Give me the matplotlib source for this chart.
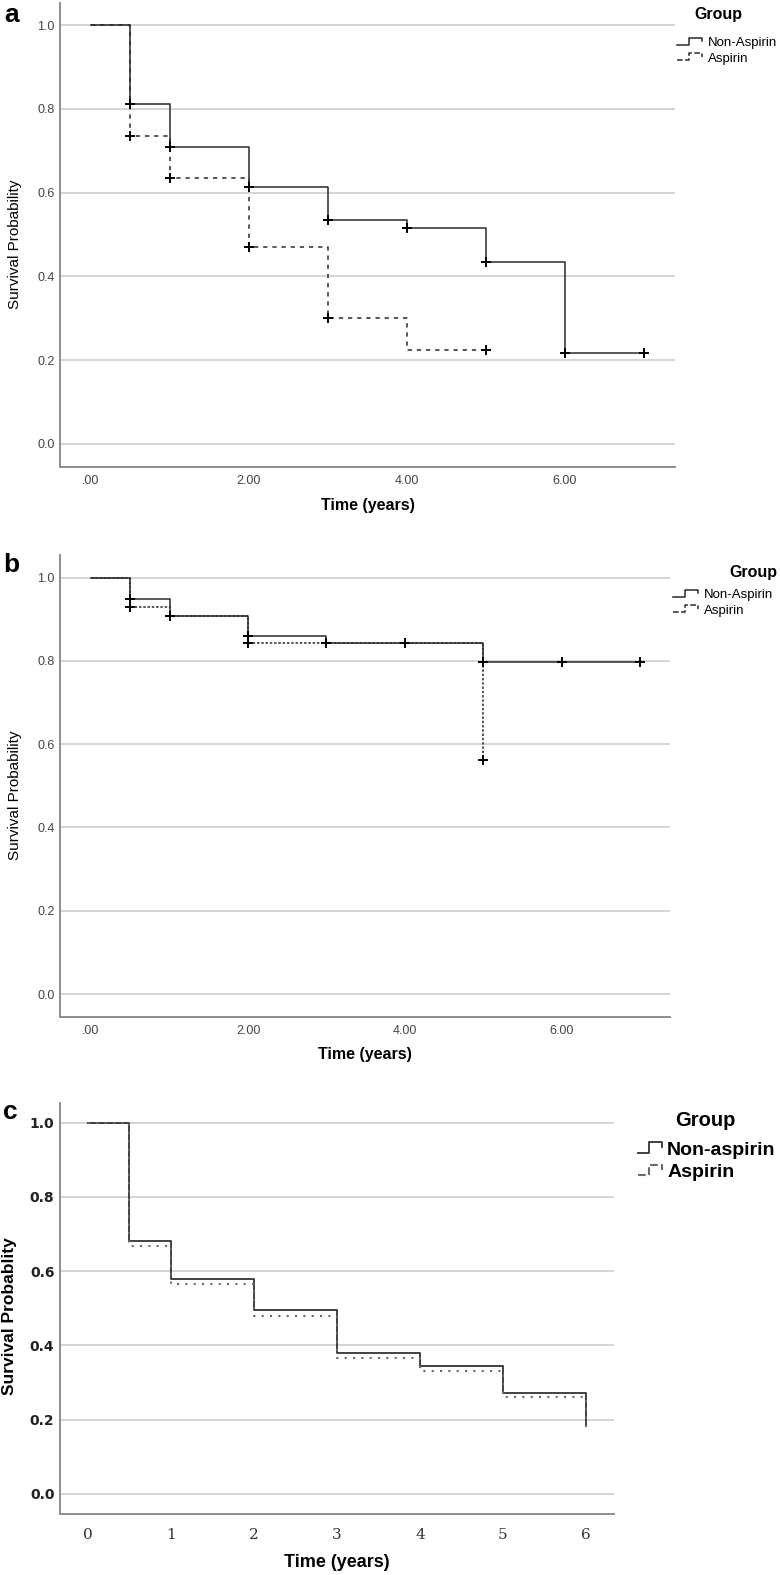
"""Kaplan-Meier survival curves, aspirin vs non-aspirin (panels a, b, c)."""

import numpy as np
import matplotlib
matplotlib.use("Agg")
import matplotlib.pyplot as plt
from matplotlib.legend_handler import HandlerBase
from matplotlib.lines import Line2D

W, H = 780, 1575

# ---- data ----
# panel a
a_non_t = [0, 0.5, 1, 2, 3, 4, 5, 6, 7]
a_non_s = [1.0, 0.811, 0.709, 0.613, 0.535, 0.515, 0.434, 0.217, 0.217]
a_non_cens = [0.5, 1, 2, 3, 4, 5, 6, 7]
a_asp_t = [0, 0.5, 1, 2, 3, 4, 5]
a_asp_s = [1.0, 0.735, 0.635, 0.470, 0.300, 0.224, 0.224]
a_asp_cens = [0.5, 1, 2, 3, 5]

# panel b
b_non_t = [0, 0.5, 1, 2, 3, 5, 7]
b_non_s = [1.0, 0.950, 0.908, 0.860, 0.843, 0.797, 0.797]
b_non_cens = [0.5, 1, 2, 3, 4, 5, 6, 7]
b_asp_t = [0, 0.5, 1, 2, 5]
b_asp_s = [1.0, 0.929, 0.908, 0.844, 0.562]
b_asp_cens = [0.5, 1, 2, 5]

# panel c
c_non_t = [0, 0.5, 1, 2, 3, 4, 5, 6]
c_non_s = [1.0, 0.680, 0.579, 0.495, 0.379, 0.345, 0.273, 0.186]
c_asp_t = [0, 0.5, 1, 2, 3, 4, 5, 6]
c_asp_s = [1.0, 0.669, 0.566, 0.480, 0.365, 0.331, 0.260, 0.174]

y_ticks = [0.0, 0.2, 0.4, 0.6, 0.8, 1.0]
y_ticklabels = ["0.0", "0.2", "0.4", "0.6", "0.8", "1.0"]
ab_xticks = [0, 2, 4, 6]
ab_xticklabels = [".00", "2.00", "4.00", "6.00"]
c_xticks = [0, 1, 2, 3, 4, 5, 6]
c_xticklabels = ["0", "1", "2", "3", "4", "5", "6"]

SANS = ["Liberation Sans", "DejaVu Sans"]
NARROW = ["Liberation Sans Narrow", "Liberation Sans", "DejaVu Sans"]
LINE = "#2a2a2a"
GRID = "#cdcdcd"
SPINE = "#8e8e8e"


class StepHandler(HandlerBase):
    """SPSS-like little step icon for the legend."""

    def create_artists(self, legend, orig_handle, xdescent, ydescent,
                       width, height, fontsize, trans):
        x = np.array([0, 0.45, 0.45, 0.95, 0.95]) * width - xdescent
        y = np.array([0.15, 0.15, 0.9, 0.9, 0.55]) * height - ydescent
        ln = Line2D(x, y, color=orig_handle.get_color(),
                    linestyle=orig_handle.get_linestyle(),
                    linewidth=orig_handle.get_linewidth())
        ln.set_transform(trans)
        return [ln]


def px_box(left, top, right, bottom):
    return [left / W, 1 - bottom / H, (right - left) / W, (bottom - top) / H]


def fx(x):
    return x / W


def fy(y):
    return 1 - y / H


def censor_y(t, s, cens):
    idx = np.searchsorted(t, cens, side="right") - 1
    return np.asarray(s)[idx]


def style_axes(ax, xlim, ylim):
    ax.set_xlim(*xlim)
    ax.set_ylim(*ylim)
    for side in ["top", "right"]:
        ax.spines[side].set_visible(False)
    for side in ["left", "bottom"]:
        ax.spines[side].set_color(SPINE)
        ax.spines[side].set_linewidth(1.4)
    ax.set_yticks(y_ticks)
    ax.yaxis.grid(True, color=GRID, linewidth=1.2)
    ax.set_axisbelow(True)
    ax.tick_params(length=0)


fig = plt.figure(figsize=(W / 100, H / 100), dpi=100)

# ---------------- panel a ----------------
ax = fig.add_axes(px_box(60, 3.3, 675, 467))
style_axes(ax, (-0.392, 7.392), (-0.0549, 1.0518))
l1, = ax.step(a_non_t, a_non_s, where="post", color=LINE, lw=1.1)
l2, = ax.step(a_asp_t, a_asp_s, where="post", color=LINE, lw=1.1,
              linestyle=(0, (2.8, 3.2)))
ax.plot(a_non_cens, censor_y(a_non_t, a_non_s, a_non_cens), "+",
        color="black", ms=7, mew=1.4)
ax.plot(a_asp_cens, censor_y(a_asp_t, a_asp_s, a_asp_cens), "+",
        color="black", ms=7, mew=1.4)
ax.set_xticks(ab_xticks, ab_xticklabels)
ax.set_yticklabels(y_ticklabels)
ax.tick_params(axis="x", pad=6, labelsize=9, labelcolor="#444")
ax.tick_params(axis="y", pad=4, labelsize=9, labelcolor="#444")
for lab in ax.get_xticklabels() + ax.get_yticklabels():
    lab.set_family(SANS)
ax.set_xlabel("Time (years)", family=SANS, fontsize=11.5, fontweight="bold",
              va="center")
ax.xaxis.set_label_coords(0.5, -0.082)
ax.set_ylabel("Survival Probability", family=NARROW, fontsize=11,
              va="center", ha="center")
ax.yaxis.set_label_coords(-0.073, 0.481)
fig.text(fx(12), fy(15), "a", family=SANS, fontsize=19, fontweight="bold",
         ha="center", va="center")
fig.text(fx(718), fy(15), "Group", family=SANS, fontsize=11.5,
         fontweight="bold", ha="center", va="center")
fig.legend([l1, l2], ["Non-Aspirin", "Aspirin"], loc="upper left",
           bbox_to_anchor=(fx(677), fy(37)), frameon=False, borderpad=0,
           borderaxespad=0, handlelength=2.0, handletextpad=0.35,
           labelspacing=0.25, prop={"family": SANS, "size": 9.5},
           handler_map={Line2D: StepHandler()})

# ---------------- panel b ----------------
ax = fig.add_axes(px_box(60, 555, 670, 1016.7))
style_axes(ax, (-0.395, 7.376), (-0.0545, 1.0545))
l1, = ax.step(b_non_t, b_non_s, where="post", color=LINE, lw=1.1)
l2, = ax.step(b_asp_t, b_asp_s, where="post", color=LINE, lw=1.1,
              linestyle=(0, (1.6, 1.2)))
ax.plot(b_non_cens, censor_y(b_non_t, b_non_s, b_non_cens), "+",
        color="black", ms=7, mew=1.4)
ax.plot(b_asp_cens, censor_y(b_asp_t, b_asp_s, b_asp_cens), "+",
        color="black", ms=7, mew=1.4)
ax.set_xticks(ab_xticks, ab_xticklabels)
ax.set_yticklabels(y_ticklabels)
ax.tick_params(axis="x", pad=6, labelsize=9, labelcolor="#444")
ax.tick_params(axis="y", pad=4, labelsize=9, labelcolor="#444")
for lab in ax.get_xticklabels() + ax.get_yticklabels():
    lab.set_family(SANS)
ax.set_xlabel("Time (years)", family=SANS, fontsize=11.5, fontweight="bold",
              va="center")
ax.xaxis.set_label_coords(0.5, -0.081)
ax.set_ylabel("Survival Probability", family=NARROW, fontsize=11,
              va="center", ha="center")
ax.yaxis.set_label_coords(-0.0738, 0.479)
fig.text(fx(11), fy(565), "b", family=SANS, fontsize=19, fontweight="bold",
         ha="center", va="center")
fig.text(fx(753), fy(572), "Group", family=SANS, fontsize=11.5,
         fontweight="bold", ha="center", va="center")
fig.legend([l1, l2], ["Non-Aspirin", "Aspirin"], loc="upper left",
           bbox_to_anchor=(fx(673), fy(589)), frameon=False, borderpad=0,
           borderaxespad=0, handlelength=2.0, handletextpad=0.35,
           labelspacing=0.25, prop={"family": SANS, "size": 9.5},
           handler_map={Line2D: StepHandler()})

# ---------------- panel c ----------------
ax = fig.add_axes(px_box(60, 1103, 614, 1514.3))
style_axes(ax, (-0.333, 6.337), (-0.0547, 1.053))
l1, = ax.step(c_non_t, c_non_s, where="post", color="#333333", lw=1.3)
l2, = ax.step(c_asp_t, c_asp_s, where="post", color="#6a6a6a", lw=1.5,
              linestyle=(0, (1, 3)))
ax.set_xticks(c_xticks, c_xticklabels)
ax.set_yticklabels(y_ticklabels)
ax.tick_params(axis="x", pad=10, labelsize=11, labelcolor="#333")
ax.tick_params(axis="y", pad=4, labelsize=10, labelcolor="#222")
for lab in ax.get_xticklabels():
    lab.set_family(["DejaVu Serif"])
for lab in ax.get_yticklabels():
    lab.set_family(["DejaVu Sans"])
    lab.set_fontweight("bold")
ax.set_xlabel("Time (years)", family=SANS, fontsize=13, fontweight="bold",
              va="center")
ax.xaxis.set_label_coords(0.5, -0.116)
ax.set_ylabel("Survival Probablity", family=NARROW, fontsize=12.5,
              fontweight="bold", va="center", ha="center")
ax.yaxis.set_label_coords(-0.0903, 0.481)
fig.text(fx(10), fy(1112), "c", family=SANS, fontsize=19, fontweight="bold",
         ha="center", va="center")
fig.text(fx(705), fy(1120), "Group", family=SANS, fontsize=14.5,
         fontweight="bold", ha="center", va="center")
fig.legend([l1, l2], ["Non-aspirin", "Aspirin"], loc="upper left",
           bbox_to_anchor=(fx(638), fy(1141)), frameon=False, borderpad=0,
           borderaxespad=0, handlelength=1.3, handletextpad=0.2,
           labelspacing=0.25,
           prop={"family": SANS, "size": 14, "weight": "bold"},
           handler_map={Line2D: StepHandler()})

fig.savefig("out.png", dpi=100)
